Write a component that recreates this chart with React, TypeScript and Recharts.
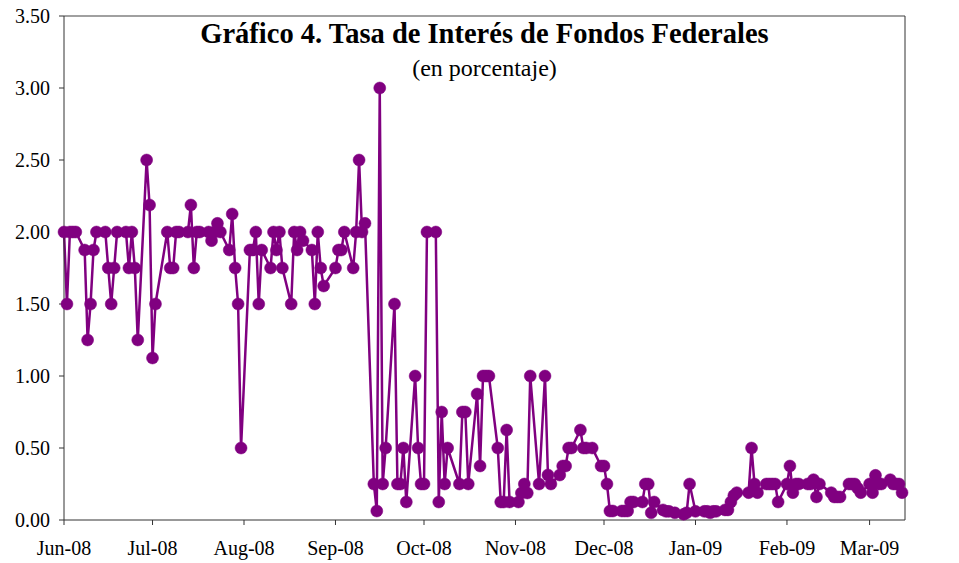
import { LineChart, Line, XAxis, YAxis, ReferenceLine } from 'recharts'

// business days and fed funds readings (percent), month by month
const junDays = [2, 3, 4, 5, 6, 9, 10, 11, 12, 13, 16, 17, 18, 19, 20, 23, 24, 25, 26, 27, 30]
const junRates = [2.0, 1.5, 2.0, 2.0, 2.0, 1.875, 1.25, 1.5, 1.875, 2.0, 2.0, 1.75, 1.5, 1.75, 2.0, 2.0, 1.75, 2.0, 1.75, 1.25, 2.5]

const julDays = [1, 2, 3, 7, 8, 9, 10, 11, 14, 15, 16, 17, 18, 21, 22, 23, 24, 25, 28, 29, 30, 31]
const julRates = [2.1875, 1.125, 1.5, 2.0, 1.75, 1.75, 2.0, 2.0, 2.0, 2.1875, 1.75, 2.0, 2.0, 2.0, 1.94, 2.0, 2.06, 2.0, 1.875, 2.125, 1.75, 1.5]

const augDays = [1, 4, 5, 6, 7, 8, 11, 12, 13, 14, 15, 18, 19, 20, 21, 22, 25, 26, 27, 28, 29]
const augRates = [0.5, 1.875, 1.875, 2.0, 1.5, 1.875, 1.75, 2.0, 1.875, 2.0, 1.75, 1.5, 2.0, 1.875, 2.0, 1.94, 1.875, 1.5, 2.0, 1.75, 1.625]

const sepDays = [2, 3, 4, 5, 8, 9, 10, 11, 12, 15, 16, 17, 18, 19, 22, 23, 24, 25, 26, 29, 30]
const sepRates = [1.75, 1.875, 1.875, 2.0, 1.75, 2.0, 2.5, 2.0, 2.06, 0.25, 0.0625, 3.0, 0.25, 0.5, 1.5, 0.25, 0.25, 0.5, 0.125, 1.0, 0.5]

const octDays = [1, 2, 3, 6, 7, 8, 9, 10, 14, 15, 16, 17, 20, 21, 22, 23, 24, 27, 28, 29, 30, 31]
const octRates = [0.25, 0.25, 2.0, 2.0, 0.125, 0.75, 0.25, 0.5, 0.25, 0.75, 0.75, 0.25, 0.875, 0.375, 1.0, 1.0, 1.0, 0.5, 0.125, 0.125, 0.625, 0.125]

const novDays = [3, 4, 5, 6, 7, 10, 12, 13, 14, 17, 18, 19, 20, 21, 24, 25, 26, 28]
const novRates = [0.125, 0.1875, 0.25, 0.1875, 1.0, 0.25, 1.0, 0.3125, 0.25, 0.3125, 0.375, 0.375, 0.5, 0.5, 0.625, 0.5, 0.5, 0.5]

const decDays = [1, 2, 3, 4, 5, 8, 9, 10, 11, 12, 15, 16, 17, 18, 19, 22, 23, 24, 26, 29, 30, 31]
const decRates = [0.375, 0.375, 0.25, 0.0625, 0.0625, 0.0625, 0.0625, 0.0625, 0.125, 0.125, 0.125, 0.25, 0.25, 0.05, 0.125, 0.07, 0.06, 0.06, 0.05, 0.04, 0.05, 0.25]

const janDays = [2, 5, 6, 7, 8, 9, 12, 13, 14, 15, 16, 20, 21, 22, 23, 26, 27, 28, 29, 30]
const janRates = [0.06, 0.06, 0.06, 0.05, 0.06, 0.06, 0.07, 0.07, 0.125, 0.17, 0.19, 0.19, 0.5, 0.25, 0.19, 0.25, 0.25, 0.25, 0.25, 0.125]

const febDays = [2, 3, 4, 5, 6, 9, 10, 11, 12, 13, 17, 18, 19, 20, 23, 24, 25, 26, 27]
const febRates = [0.25, 0.375, 0.19, 0.25, 0.25, 0.25, 0.25, 0.28, 0.16, 0.25, 0.19, 0.16, 0.16, 0.16, 0.25, 0.25, 0.25, 0.22, 0.19]

const marDays = [2, 3, 4, 5, 6, 9, 10, 11, 12, 13]
const marRates = [0.25, 0.19, 0.31, 0.25, 0.25, 0.28, 0.25, 0.25, 0.25, 0.19]

const monthTickLabels = ['Jun-08', 'Jul-08', 'Aug-08', 'Sep-08', 'Oct-08', 'Nov-08', 'Dec-08', 'Jan-09', 'Feb-09', 'Mar-09']
const yTicks = [0, 0.5, 1, 1.5, 2, 2.5, 3, 3.5]

const PURPLE = '#800080'
const FONT = '"Liberation Serif", "Times New Roman", serif'

// day count from 1 Jun 2008
const dayOf = (y: number, m: number, d: number) => (Date.UTC(y, m - 1, d) - Date.UTC(2008, 5, 1)) / 86400000

const months: [number, number, number[], number[]][] = [
  [2008, 6, junDays, junRates],
  [2008, 7, julDays, julRates],
  [2008, 8, augDays, augRates],
  [2008, 9, sepDays, sepRates],
  [2008, 10, octDays, octRates],
  [2008, 11, novDays, novRates],
  [2008, 12, decDays, decRates],
  [2009, 1, janDays, janRates],
  [2009, 2, febDays, febRates],
  [2009, 3, marDays, marRates],
]

const data = months.flatMap(([y, m, days, rates]) => days.map((d, i) => ({ day: dayOf(y, m, d), rate: rates[i] })))

// month ticks fall on the 2nd (axis starts on 2 Jun)
const xTicks = months.map(([y, m]) => dayOf(y, m, 2))
const tickLabel = (v: number) => monthTickLabels[xTicks.indexOf(v)] ?? ''

const tickStyle = { fill: '#000', fontSize: 20 }

export default function App() {
  return (
    <div style={{ position: 'absolute', left: 0, top: 0, width: 959, height: 563, background: '#fff', fontFamily: FONT }}>
      <LineChart width={959} height={563} data={data} margin={{ top: 16, right: 0, bottom: 0, left: 0 }}>
        <XAxis
          dataKey="day"
          type="number"
          domain={[1, 286]}
          ticks={xTicks}
          tickFormatter={tickLabel}
          height={43}
          tick={tickStyle}
          tickSize={5}
          tickMargin={16}
          stroke="#333"
        />
        <YAxis
          yAxisId="left"
          domain={[0, 3.5]}
          ticks={yTicks}
          tickFormatter={(v: number) => v.toFixed(2)}
          width={64}
          tick={tickStyle}
          tickSize={5}
          tickMargin={9}
          stroke="#333"
        />
        <YAxis
          yAxisId="right"
          orientation="right"
          domain={[0, 3.5]}
          ticks={yTicks}
          tickFormatter={(v: number) => v.toFixed(2)}
          width={54}
          tick={tickStyle}
          tickSize={5}
          tickMargin={8}
          stroke="#333"
        />
        <ReferenceLine yAxisId="left" y={3.5} stroke="#808080" strokeWidth={1.5} />
        <Line
          yAxisId="left"
          dataKey="rate"
          stroke={PURPLE}
          strokeWidth={2.5}
          dot={{ r: 6, fill: PURPLE, stroke: PURPLE, strokeWidth: 0.5 }}
          isAnimationActive={false}
        />
      </LineChart>
      <div
        style={{
          position: 'absolute',
          left: 64,
          width: 841,
          top: 20,
          textAlign: 'center',
          fontWeight: 'bold',
          fontSize: 28.5,
          lineHeight: 1,
        }}
      >
        Gráfico 4. Tasa de Interés de Fondos Federales
      </div>
      <div
        style={{
          position: 'absolute',
          left: 64,
          width: 841,
          top: 56,
          textAlign: 'center',
          fontSize: 24,
          lineHeight: 1,
        }}
      >
        (en porcentaje)
      </div>
    </div>
  )
}
